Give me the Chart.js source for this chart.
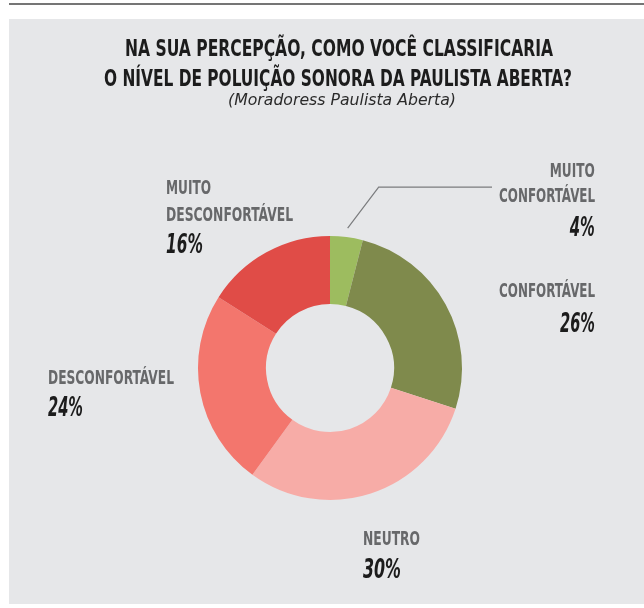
<!DOCTYPE html>
<html lang="pt-BR">
<head>
<meta charset="utf-8">
<script src="https://cdn.jsdelivr.net/npm/chart.js@4/dist/chart.umd.min.js"></script>
<style>
  html, body { margin: 0; padding: 0; background: #fff; }
  body { width: 644px; height: 608px; position: relative; overflow: hidden; }
  .topline { position: absolute; left: 9px; top: 3px; width: 635px; height: 2px; background: #757575; }
  .panel { position: absolute; left: 9px; top: 19px; width: 635px; height: 585px; background: #e6e7e9; }
  #chart { position: absolute; left: 0; top: 0; }
  .txt { position: absolute; white-space: nowrap; display: inline-block; }
  .title { font-family: "Liberation Sans Narrow", "DejaVu Sans Condensed", "Liberation Sans", sans-serif;
           font-weight: bold; font-size: 23px; line-height: 23px; color: #1c1c1c; }
  .sub { font-family: "DejaVu Sans", sans-serif; font-style: italic; font-size: 15px; line-height: 15px; color: #2b2b2b; }
  .lbl { font-family: "Liberation Sans Narrow", "DejaVu Sans Condensed", "Liberation Sans", sans-serif;
         font-weight: bold; font-size: 20px; line-height: 20px; color: #67686a; }
  .pct { font-family: "Liberation Sans Narrow", "DejaVu Sans Condensed", "Liberation Sans", sans-serif;
         font-weight: bold; font-style: italic; font-size: 26px; line-height: 26px; color: #1c1c1c; }
</style>
</head>
<body>
<div class="topline"></div>
<div class="panel"></div>
<canvas id="chart" width="644" height="608"></canvas>

<div class="txt title" style="left:125px; top:37px" data-w="428">NA SUA PERCEPÇÃO, COMO VOCÊ CLASSIFICARIA</div>
<div class="txt title" style="left:104px; top:67px" data-w="468">O NÍVEL DE POLUIÇÃO SONORA DA PAULISTA ABERTA?</div>
<div class="txt sub" style="left:228px; top:93px" data-w="228">(Moradoress Paulista Aberta)</div>

<div id="labels"></div>

<script>
// --- DATA ---
const categories = ['MUITO CONFORTÁVEL', 'CONFORTÁVEL', 'NEUTRO', 'DESCONFORTÁVEL', 'MUITO DESCONFORTÁVEL'];
const values = [4, 26, 30, 24, 16];
const colors = ['#9dbc5f', '#7f8a4c', '#f7aca7', '#f3766d', '#e04c47'];

// label blocks: lines of the category name, then the percentage
const labelBlocks = [
    { lines: ['MUITO', 'CONFORTÁVEL'], align: 'right', x: 595, tops: [160, 185], widths: [45, 96], pctTop: 214, pctW: 25 },
    { lines: ['CONFORTÁVEL'], align: 'right', x: 595, tops: [280], widths: [96], pctTop: 310, pctW: 35 },
    { lines: ['NEUTRO'], align: 'left', x: 363, tops: [528], widths: [57], pctTop: 556, pctW: 38 },
    { lines: ['DESCONFORTÁVEL'], align: 'left', x: 48, tops: [367], widths: [126], pctTop: 394, pctW: 35 },
    { lines: ['MUITO', 'DESCONFORTÁVEL'], align: 'left', x: 166, tops: [177, 204], widths: [45, 127], pctTop: 231, pctW: 37 }
];

// --- LABELS ---
const holder = document.getElementById('labels');

function addText(cls, text, block, top, w) {
    const el = document.createElement('div');
    el.className = 'txt ' + cls;
    el.textContent = text;
    el.style.top = top + 'px';
    if (block.align === 'right') {
        el.style.right = (644 - block.x) + 'px';
        el.dataset.origin = 'right';
    } else {
        el.style.left = block.x + 'px';
    }
    el.dataset.w = w;
    holder.appendChild(el);
}

labelBlocks.forEach((block, i) => {
    block.lines.forEach((line, j) => addText('lbl', line, block, block.tops[j], block.widths[j]));
    addText('pct', values[i] + '%', block, block.pctTop, block.pctW);
});

// squeeze text horizontally to the condensed width of the original
document.querySelectorAll('[data-w]').forEach(el => {
    const natural = el.getBoundingClientRect().width;
    const k = Number(el.dataset.w) / natural;
    el.style.transformOrigin = (el.dataset.origin === 'right' ? 'right' : 'left') + ' top';
    el.style.transform = 'scaleX(' + k + ')';
});

// --- CHART ---
const leaderLine = {
    id: 'leaderLine',
    afterDatasetsDraw(chart) {
        const arc = chart.getDatasetMeta(0).data[0];
        const mid = (arc.startAngle + arc.endAngle) / 2;
        const r = arc.outerRadius + 9;
        const x0 = arc.x + Math.cos(mid) * r;
        const y0 = arc.y + Math.sin(mid) * r;
        const ctx = chart.ctx;
        ctx.save();
        ctx.strokeStyle = '#7b7c7e';
        ctx.lineWidth = 1.2;
        ctx.beginPath();
        ctx.moveTo(x0, y0);
        ctx.lineTo(x0 + 31, y0 - 41);
        ctx.lineTo(492, y0 - 41);
        ctx.stroke();
        ctx.restore();
    }
};

new Chart(document.getElementById('chart'), {
    type: 'doughnut',
    data: {
        labels: categories,
        datasets: [{
            data: values,
            backgroundColor: colors,
            borderWidth: 0
        }]
    },
    options: {
        responsive: false,
        animation: false,
        cutout: '48.5%',
        layout: { padding: { left: 198, right: 182, top: 236, bottom: 108 } },
        plugins: {
            legend: { display: false },
            tooltip: { enabled: false }
        }
    },
    plugins: [leaderLine]
});
</script>
</body>
</html>
